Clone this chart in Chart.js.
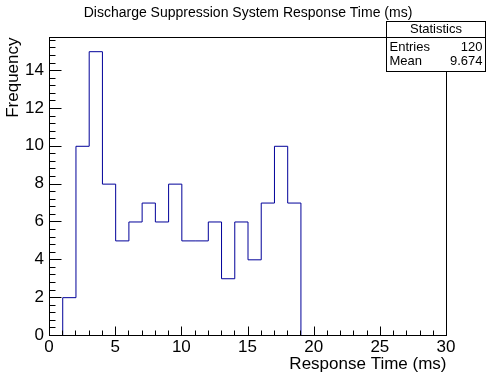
<!DOCTYPE html>
<html><head><meta charset="utf-8">
<script src="https://cdn.jsdelivr.net/npm/chart.js@4"></script>
<style>html,body{margin:0;padding:0;background:#fff;overflow:hidden}#wrap{width:496px;height:372px}</style>
</head><body><div id="wrap"><canvas id="c" width="496" height="372"></canvas></div>
<script>
// ---- data ----
const binLowEdges = [0,1,2,3,4,5,6,7,8,9,10,11,12,13,14,15,16,17,18,19,20,21,22,23,24,25,26,27,28,29];
const counts      = [0,2,10,15,8,5,6,7,6,8,5,5,6,3,6,4,7,10,7,0,0,0,0,0,0,0,0,0,0,0];
const binWidth = 1;
const xTicks = [0,5,10,15,20,25,30];
const yTicks = [0,2,4,6,8,10,12,14];
const xMinorStep = 1;
const yMinorStep = 0.4;
const chartTitle = 'Discharge Suppression System Response Time (ms)';
const xTitle = 'Response Time (ms)';
const yTitle = 'Frequency';
const statsHeader = 'Statistics';
const statsLabels = ['Entries','Mean'];
const statsValues = ['120','9.674'];

const FONT = '"Liberation Sans", Arial, Helvetica, sans-serif';

const points = binLowEdges.map((x,i)=>({x:x, y:counts[i]}));
points.push({x: binLowEdges[binLowEdges.length-1]+binWidth, y: 0});

const rootPlugin = {
  id: 'rootStyle',
  beforeDatasetsDraw(chart){ chart.ctx.save(); chart.ctx.translate(0.5,0.5); },
  afterDatasetsDraw(chart){
    const ctx = chart.ctx; ctx.restore();
    const a = chart.chartArea, xs = chart.scales.x, ys = chart.scales.y;
    ctx.save();
    ctx.strokeStyle = '#000'; ctx.lineWidth = 1;
    const L = Math.round(a.left)+0.5, R = Math.round(a.right)+0.5, T = Math.round(a.top)+0.5, B = Math.round(a.bottom)+0.5;
    ctx.strokeRect(L, T, R-L, B-T);
    ctx.beginPath();
    // x ticks (inward)
    for (let v = xs.min; v <= xs.max + 1e-9; v += xMinorStep) {
      const px = Math.round(xs.getPixelForValue(v))+0.5;
      const major = xTicks.some(t=>Math.abs(t-v)<1e-6);
      const len = major ? 9 : 5;
      ctx.moveTo(px, B); ctx.lineTo(px, B-len);
    }
    // y ticks (inward)
    for (let v = ys.min; v <= ys.max + 1e-9; v += yMinorStep) {
      const py = Math.round(ys.getPixelForValue(v))+0.5;
      const major = yTicks.some(t=>Math.abs(t-v)<1e-6);
      const len = major ? 12 : 6;
      ctx.moveTo(L, py); ctx.lineTo(L+len, py);
    }
    ctx.stroke();

    // title
    ctx.fillStyle = '#000';
    ctx.font = '14px ' + FONT;
    ctx.textAlign = 'center'; ctx.textBaseline = 'middle';
    ctx.fillText(chartTitle, 248, 13);
    // axis titles
    ctx.font = '17px ' + FONT;
    ctx.textAlign = 'right'; ctx.textBaseline = 'alphabetic';
    ctx.fillText(xTitle, R, 369);
    ctx.save();
    ctx.translate(18, T);
    ctx.rotate(-Math.PI/2);
    ctx.textAlign = 'right';
    ctx.fillText(yTitle, 0, 0);
    ctx.restore();

    // stats box
    const bx = 386.5, by = 21.5, bw = 99, bh = 50, hy = 37.5;
    ctx.fillStyle = '#fff';
    ctx.fillRect(bx, by, bw, bh);
    ctx.strokeRect(bx, by, bw, bh);
    ctx.beginPath(); ctx.moveTo(bx, hy); ctx.lineTo(bx+bw, hy); ctx.stroke();
    ctx.fillStyle = '#000';
    ctx.font = '13px ' + FONT;
    ctx.textBaseline = 'middle';
    ctx.textAlign = 'center';
    ctx.fillText(statsHeader, bx + bw/2, 29.5);
    statsLabels.forEach((lab,i)=>{
      const yy = 47 + i*14;
      ctx.textAlign = 'left'; ctx.fillText(lab, bx + 3, yy);
      ctx.textAlign = 'right'; ctx.fillText(statsValues[i], bx + bw - 3, yy);
    });
    ctx.restore();
  }
};

new Chart(document.getElementById('c'), {
  type: 'line',
  data: { datasets: [{
    data: points, stepped: 'before', borderColor: '#000099', borderWidth: 1,
    pointRadius: 0, fill: false, tension: 0
  }]},
  options: {
    responsive: false, animation: false, devicePixelRatio: 1,
    layout: { padding: { top: 37, right: 50, left: 0, bottom: 0 } },
    plugins: { legend: { display: false }, tooltip: { enabled: false }, title: { display: false } },
    scales: {
      x: {
        type: 'linear', min: 0, max: 30,
        grid: { display: false, drawTicks: false }, border: { display: false },
        ticks: { color: '#000', font: { size: 17, family: FONT }, padding: 2, maxRotation: 0, autoSkip: false },
        afterBuildTicks: s => { s.ticks = xTicks.map(v=>({value:v})); },
        afterFit: s => { s.height = 37; }
      },
      y: {
        type: 'linear', min: 0, max: 15.75,
        grid: { display: false, drawTicks: false }, border: { display: false },
        ticks: { color: '#000', font: { size: 17, family: FONT }, padding: 5, autoSkip: false },
        afterBuildTicks: s => { s.ticks = yTicks.map(v=>({value:v})); },
        afterFit: s => { s.width = 49; }
      }
    }
  },
  plugins: [rootPlugin]
});
</script>
</body></html>
